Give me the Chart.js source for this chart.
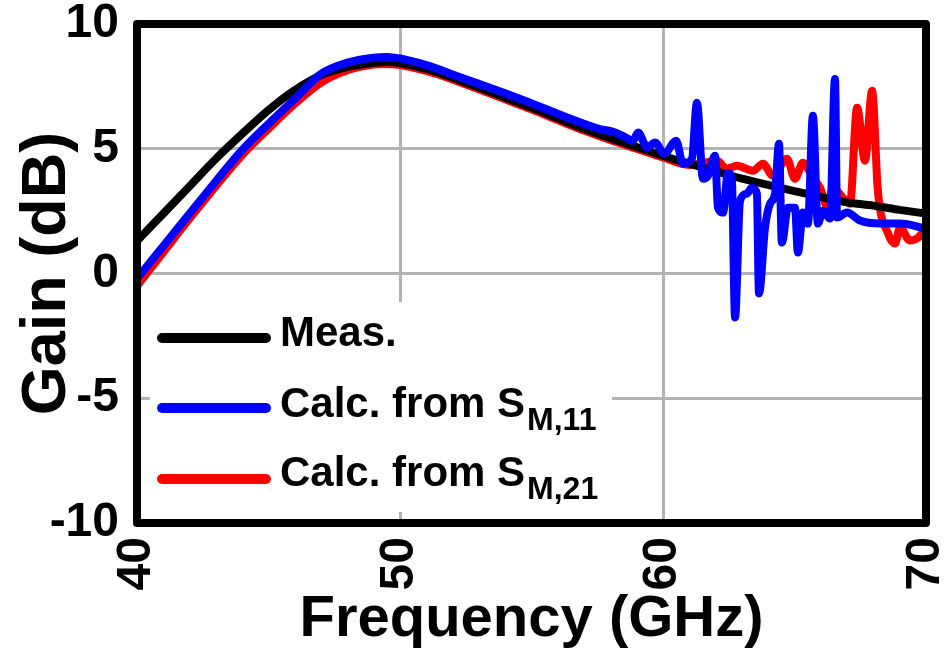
<!DOCTYPE html>
<html><head><meta charset="utf-8">
<script src="https://cdn.jsdelivr.net/npm/chart.js@4.4.0/dist/chart.umd.min.js"></script>
<style>html,body{margin:0;padding:0;background:#fff;overflow:hidden}</style>
</head><body>
<canvas id="c" width="951" height="655"></canvas>
<script>
// ---- data ----
const xTickValues = [40, 50, 60, 70];
const yTickValues = [-10, -5, 0, 5, 10];
const xTitle = 'Frequency (GHz)';
const yTitle = 'Gain (dB)';

const legendMain = ['Meas.', 'Calc. from S', 'Calc. from S'];
const legendSub  = ['', 'M,11', 'M,21'];

const freqMeas = [40,41,42,43,44,45,46,47,48,49,49.5,50,51,52,53,54,55,56,57,58,59,60,61,62,63,64,65,66,67,68,69,70];
const gainMeas = [1.3,2.4,3.5,4.6,5.6,6.55,7.35,7.95,8.28,8.45,8.48,8.43,8.2,7.85,7.45,7.05,6.65,6.22,5.8,5.42,5.07,4.72,4.4,4.1,3.8,3.55,3.3,3.07,2.85,2.72,2.55,2.4];

const freqS11 = [40,41,42,43,44,45,46,47,48,49,49.5,50,51,52,53,54,55,56,57,57.6,58.1,58.5,58.86,59.05,59.4,59.7,60.05,60.5,60.76,61.1,61.29,61.52,61.71,61.98,62.09,62.28,62.47,62.62,62.74,62.93,63.19,63.38,63.57,63.65,63.88,64.07,64.26,64.41,64.52,64.75,65.02,65.13,65.32,65.51,65.7,65.89,66.08,66.35,66.54,66.62,67.0,67.49,68.25,69.01,70];
const gainS11 = [-0.2,1.1,2.4,3.7,4.95,6.0,7.0,8.0,8.45,8.65,8.68,8.62,8.35,7.98,7.6,7.22,6.82,6.4,6.0,5.79,5.68,5.5,5.32,5.65,5.05,5.25,4.8,5.32,4.4,4.6,6.84,3.8,3.92,4.72,2.64,2.44,4.04,3.72,-1.76,2.92,3.2,3.44,3.2,-0.8,1.84,2.8,3.2,5.2,1.24,2.64,2.64,0.84,2.44,2.0,6.32,2.0,2.52,2.2,7.8,2.24,2.44,2.12,2.0,2.0,1.8];

const freqS21 = [40,41,42,43,44,45,46,47,48,49,49.5,50,51,52,53,54,55,56,57,58,59,60,61,61.41,62.05,62.43,62.81,63.42,63.8,64.18,64.71,65.02,65.32,65.7,65.97,66.27,66.46,66.84,67.11,67.38,67.68,67.95,68.17,68.56,68.82,69.01,69.39,69.7,70];
const gainS21 = [-0.5,0.85,2.2,3.5,4.75,5.8,6.8,7.65,8.15,8.38,8.4,8.35,8.12,7.78,7.38,6.98,6.58,6.15,5.73,5.35,5.0,4.65,4.35,4.4,4.52,4.2,4.32,4.12,4.4,3.92,4.6,3.8,4.44,3.84,3.44,2.64,3.44,3.04,2.8,6.64,4.52,7.32,3.32,1.6,1.2,1.84,1.32,1.44,1.8];

// ---- build ----
const FONT = "'Liberation Sans', Arial, Helvetica, sans-serif";
const pts = (xs, ys) => xs.map((x, i) => ({x: x, y: ys[i]}));
const colors = ['#000000', '#0000ff', '#ff0000'];

const framePlugin = {
  id: 'frameLegend',
  afterDraw(chart) {
    const {ctx, chartArea: a} = chart;
    ctx.save();
    // legend box
    ctx.fillStyle = '#ffffff';
    ctx.fillRect(150, 302, 462, 210);
    const rowsY = [338, 408, 479];
    const baseY = [346, 417, 486];
    for (let i = 0; i < 3; i++) {
      ctx.strokeStyle = colors[i];
      ctx.lineWidth = 10;
      ctx.lineCap = 'round';
      ctx.beginPath();
      ctx.moveTo(162, rowsY[i]);
      ctx.lineTo(266, rowsY[i]);
      ctx.stroke();
      ctx.fillStyle = '#000';
      ctx.textBaseline = 'alphabetic';
      ctx.textAlign = 'left';
      ctx.font = 'bold 42px ' + FONT;
      ctx.fillText(legendMain[i], 280, baseY[i]);
      if (legendSub[i]) {
        const w = ctx.measureText(legendMain[i]).width;
        ctx.font = 'bold 32px ' + FONT;
        ctx.fillText(legendSub[i], 280 + w + 2, baseY[i] + 13);
      }
    }
    // frame
    ctx.strokeStyle = '#000';
    ctx.lineWidth = 8;
    ctx.lineJoin = 'round';
    ctx.strokeRect(a.left, a.top, a.right - a.left, a.bottom - a.top);
    ctx.restore();
  }
};

new Chart(document.getElementById('c'), {
  type: 'line',
  data: {
    datasets: [
      {label: legendMain[1] + legendSub[1], data: pts(freqS11, gainS11), borderColor: colors[1], order: 0},
      {label: legendMain[0], data: pts(freqMeas, gainMeas), borderColor: colors[0], order: 1},
      {label: legendMain[2] + legendSub[2], data: pts(freqS21, gainS21), borderColor: colors[2], order: 2}
    ].map(d => Object.assign(d, {borderWidth: 8, pointRadius: 0, fill: false, cubicInterpolationMode: 'monotone', borderJoinStyle: 'bevel'}))
  },
  options: {
    responsive: false,
    animation: false,
    layout: {padding: {left: 0, top: 24, right: 25, bottom: 0}},
    plugins: {legend: {display: false}, tooltip: {enabled: false}},
    scales: {
      x: {
        type: 'linear', min: 40, max: 70,
        afterBuildTicks: s => { s.ticks = xTickValues.map(v => ({value: v})); },
        afterFit: s => { s.height = 132; s.paddingLeft = 0; s.paddingRight = 0; },
        grid: {color: '#b3b3b3', lineWidth: 3, drawTicks: false},
        border: {display: false},
        ticks: {minRotation: 90, maxRotation: 90, padding: 14, color: '#000', font: {family: FONT, size: 48, weight: 'bold'}},
        title: {display: true, text: xTitle, color: '#000', font: {family: FONT, size: 58, weight: 'bold'}, padding: {top: 0, bottom: 0}}
      },
      y: {
        min: -10, max: 10,
        afterBuildTicks: s => { s.ticks = yTickValues.map(v => ({value: v})); },
        afterFit: s => { s.width = 137; s.paddingTop = 0; s.paddingBottom = 0; },
        grid: {color: '#b3b3b3', lineWidth: 3, drawTicks: false},
        border: {display: false},
        ticks: {padding: 18, color: '#000', font: {family: FONT, size: 48, weight: 'bold'}},
        title: {display: true, text: yTitle, color: '#000', font: {family: FONT, size: 63, weight: 'bold'}, padding: {top: 10, bottom: 0}}
      }
    }
  },
  plugins: [framePlugin]
});
</script>
</body></html>
